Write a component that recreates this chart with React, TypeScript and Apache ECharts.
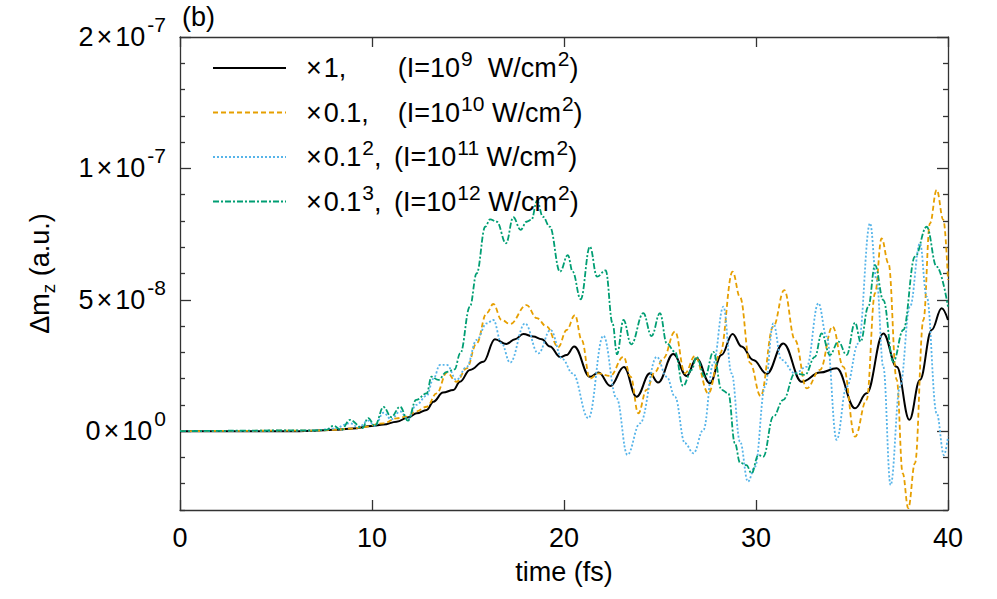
import React, { useEffect, useRef } from "react";
import * as echarts from "echarts";

// values in units of 1e-8 a.u.
const SCALE = 1e-8;
const FONT = "Liberation Sans, Arial, Helvetica, sans-serif";

const X_MIN = 0;
const X_MAX = 40;
const Y_MIN = -3;
const Y_MAX = 15;
const Y_MAJOR = [0, 5, 10, 15];
const Y_TICK_TEXT: Record<number, [string, string]> = {
  0: ["0", "0"],
  5: ["5", "-8"],
  10: ["1", "-7"],
  15: ["2", "-7"],
};

const SERIES_NAMES = ["x1", "x0.1", "x0.01", "x0.001"];
const LEGEND_MANT = ["1,", "0.1,", "0.1", "0.1"];
const LEGEND_POW = ["", "", "2", "3"];
const LEGEND_EXP = ["9", "10", "11", "12"];
const COLORS = ["#000000", "#E69F00", "#56B4E9", "#009E73"];

const black: [number, number][] = [
  [0, 0], [6, 0], [7, 0.02], [8, 0.05], [9, 0.1], [10, 0.2], [10.6, 0.25], [11.28, 0.36],
  [11.9, 0.53], [12.33, 0.68], [12.85, 0.81], [13.2, 1.12], [13.7, 1.47], [14.24, 1.57],
  [14.58, 1.88], [15.1, 2.33], [15.8, 2.64], [16.4, 3.5], [17.0, 3.32], [17.45, 3.5],
  [17.88, 3.7], [18.4, 3.6], [18.84, 3.5], [19.27, 3.22], [19.8, 2.82], [20.14, 2.9],
  [20.53, 3.22], [21.35, 2.07], [21.8, 2.23], [22.42, 1.72], [23.12, 2.44], [23.78, 1.31],
  [24.48, 2.2], [24.9, 1.85], [25.69, 2.94], [26.39, 2.1], [26.9, 2.77], [27.6, 1.82],
  [28.2, 2.9], [28.78, 3.7], [29.25, 3.22], [29.86, 2.71], [30.56, 2.18], [31.42, 3.34],
  [32.38, 1.88], [33.33, 2.23], [34.2, 2.39], [35.16, 0.87], [35.76, 1.44], [36.63, 3.72],
  [37.33, 2.45], [37.99, 0.43], [38.54, 1.95], [39.15, 3.85], [39.67, 4.68], [40, 4.23],
];

const orange: [number, number][] = [
  [0, 0], [7, 0.02], [8, 0.05], [9, 0.1], [9.5, 0.15], [10.6, 0.3], [11.28, 0.49], [11.8, 0.55],
  [12.3, 0.75], [12.85, 0.93], [13.37, 1.44], [13.9, 2.23], [14.4, 1.88], [14.93, 2.39],
  [15.45, 3.34], [15.97, 4.49], [16.32, 4.84], [16.75, 4.23], [17.19, 4.08], [18.05, 4.8],
  [18.58, 4.3], [19.1, 3.98], [19.7, 3.2], [20.14, 3.85], [20.57, 4.42], [20.92, 3.47],
  [21.35, 2.0], [21.8, 2.2], [22.4, 2.1], [23.1, 2.83], [23.47, 2.07], [23.87, 0.68],
  [24.3, 1.57], [24.74, 2.26], [25.17, 2.77], [25.78, 3.79], [26.3, 2.2], [26.82, 2.86],
  [27.52, 1.44], [28.13, 2.96], [28.78, 6.07], [29.17, 5.1], [29.69, 2.6], [30.24, 1.34],
  [30.9, 3.98], [31.47, 5.37], [32.03, 3.47], [32.64, 1.63], [33.33, 2.33], [33.99, 3.98],
  [34.55, 2.45], [35.16, -0.21], [35.76, 1.19], [36.2, 5.25], [36.54, 7.34], [36.9, 6.39],
  [37.33, 1.95], [37.64, -1.6], [37.93, -2.93], [38.28, -1.22], [38.72, 4.23], [39.06, 7.91],
  [39.41, 9.18], [39.76, 8.04], [40, 5.75],
];

const blue: [number, number][] = [
  [0, 0], [7, 0.02], [8, 0.1], [8.85, 0.3], [9.3, 0.15], [9.8, 0.4], [10.15, 0.2], [10.6, 0.7],
  [11.0, 0.45], [11.46, 0.75], [11.87, 0.45], [12.3, 1.0], [12.85, 1.35], [13.2, 2.0],
  [13.54, 2.52], [13.9, 2.52], [14.4, 1.95], [14.93, 2.45], [15.45, 3.47], [15.97, 4.1],
  [16.32, 4.23], [16.75, 3.34], [17.19, 2.61], [17.97, 4.1], [18.66, 2.96], [19.3, 3.85],
  [19.92, 2.74], [20.45, 2.2], [21.27, 0.49], [22.05, 3.63], [22.74, 1.25], [23.3, -0.9],
  [23.96, 0.3], [24.83, 2.83], [25.35, 2.07], [25.78, 1.31], [26.3, -0.46], [26.74, -0.84],
  [27.26, 0.05], [27.78, 2.58], [28.3, 4.74], [28.73, 2.2], [29.17, -0.4], [29.58, -1.92],
  [29.95, -1.35], [30.47, 1.69], [30.9, 4.1], [31.33, 2.71], [32.03, 2.2], [32.64, 2.45],
  [33.25, 4.87], [33.68, 3.6], [34.2, -0.33], [34.72, 1.69], [35.33, 3.34], [35.94, 7.91],
  [36.28, 5.75], [36.63, 2.45], [37.01, -2.05], [37.5, 1.69], [38.02, 4.74], [38.54, 7.15],
  [38.89, 5.12], [39.41, 0.68], [39.79, -0.91], [40, -0.21],
];

const green: [number, number][] = [
  [0, 0], [7, 0.03], [7.6, 0.05], [8.0, 0.2], [8.4, 0.05], [8.85, 0.43], [9.5, 0.12], [9.8, 0.5],
  [10.15, 0.2], [10.6, 0.92], [11.0, 0.54], [11.46, 0.93], [11.87, 0.4], [12.3, 1.19],
  [12.85, 1.44], [13.1, 2.07], [13.45, 1.95], [13.9, 2.26], [14.3, 2.35], [14.6, 2.97],
  [15.1, 4.74], [15.45, 6.0], [15.9, 7.78], [16.15, 8.06], [16.5, 7.97], [16.98, 7.15],
  [17.36, 8.14], [17.74, 7.66], [18.05, 7.97], [18.3, 8.04], [18.6, 8.77], [18.9, 8.16],
  [19.26, 7.78], [19.79, 6.07], [20.2, 6.7], [20.45, 6.07], [20.87, 5.02], [21.35, 7.02],
  [21.72, 5.88], [22.17, 6.12], [22.53, 4.1], [22.76, 2.93], [23.1, 4.23], [23.5, 3.3],
  [24.13, 4.49], [24.56, 3.62], [25.0, 4.49], [25.35, 3.34], [25.78, 3.02], [26.2, 1.72],
  [26.65, 2.33], [26.9, 2.83], [27.34, 2.07], [27.78, 3.02], [28.21, 1.57], [28.56, 1.44],
  [28.9, -0.46], [29.17, -1.2], [29.5, -1.29], [29.77, -1.6], [30.12, -0.91], [30.38, -0.97],
  [30.9, 0.55], [31.42, 1.19], [32.03, 2.2], [32.55, 2.14], [33.07, 2.83], [33.42, 3.72],
  [33.85, 2.9], [34.29, 3.41], [34.72, 2.9], [35.16, 4.13], [35.45, 3.41], [35.85, 4.74],
  [36.2, 6.32], [36.63, 4.99], [37.15, 2.64], [37.67, 3.85], [38.28, 6.64], [38.89, 7.78],
  [39.41, 6.26], [40, 4.74],
];

const SERIES_DATA = [black, orange, blue, green];
const DASHES: (number[] | "solid")[] = ["solid", [5, 3], [2, 2], [6, 2, 2, 2]];

const FS = 27;
const SUP = 21;

export default function App() {
  const ref = useRef<HTMLDivElement>(null);
  useEffect(() => {
    if (!ref.current) return;
    const chart = echarts.init(ref.current, undefined, { renderer: "svg" });

    const yMin = Y_MIN * SCALE;
    const yMax = Y_MAX * SCALE;
    const minorVals: number[] = [];
    for (let i = Y_MIN; i <= Y_MAX; i++) if (!Y_MAJOR.includes(i)) minorVals.push(i * SCALE);
    const majorVals = Y_MAJOR.map((v) => v * SCALE);
    const axisColor = "#333";

    const base = { fontSize: FS, color: "#000", fontFamily: FONT };
    const supRich: any = {
      b: { ...base, lineHeight: 46, verticalAlign: "middle" },
      x: { ...base, lineHeight: 46, verticalAlign: "middle", padding: [0, 3, 0, 3] },
      s: { ...base, fontSize: SUP, verticalAlign: "top", padding: [0, 0, 0, 2] },
    };

    const yTickAxis = (position: "left" | "right", vals: number[], len: number, labels: boolean, line: boolean) => ({
      type: "value",
      position,
      min: yMin,
      max: yMax,
      splitLine: { show: false },
      axisLine: { show: line, onZero: false, lineStyle: { color: axisColor, width: 1.3 } },
      axisTick: { show: true, inside: true, length: len, customValues: vals, lineStyle: { color: axisColor, width: 1.3 } },
      axisLabel: labels
        ? {
            show: true,
            customValues: majorVals,
            margin: 14,
            formatter: (v: number) => {
              const k = Math.round(v / SCALE);
              const t = Y_TICK_TEXT[k];
              return t ? `{b|${t[0]}}{x|×}{b|10}{s|${t[1]}}` : "";
            },
            rich: supRich,
          }
        : { show: false },
      name: labels && position === "left" ? "{b|Δm}{z|z}{b| (a.u.)}" : "",
      nameLocation: "middle",
      nameRotate: 90,
      nameGap: 122,
      nameTextStyle: {
        rich: {
          b: { ...base, lineHeight: 36, verticalAlign: "middle" },
          z: { ...base, fontSize: 19, verticalAlign: "bottom" },
        },
      },
    });

    const legendRich: any = {
      p: { ...base, width: 15 },
      a: { ...base, width: 74, lineHeight: 40, verticalAlign: "middle" },
      c: { ...base, lineHeight: 40, verticalAlign: "middle" },
      x: { ...base, lineHeight: 40, verticalAlign: "middle", padding: [0, 2, 0, 0] },
      k: { ...base, lineHeight: 40, verticalAlign: "middle", padding: [0, 5, 0, 0] },
      b: { ...base, lineHeight: 40, verticalAlign: "middle" },
      s: { ...base, fontSize: SUP, verticalAlign: "top", padding: [0, 0, 0, 1] },
    };

    const legendText = (i: number) => {
      const exp = LEGEND_EXP[i];
      const gap = exp.length === 1 ? "  " : " ";
      const tail = `{b|(I=10}{s|${exp}}{b|${gap}W/cm}{s|2}{b|)}`;
      if (LEGEND_POW[i]) {
        return `{p| }{x|×}{c|${LEGEND_MANT[i]}}{s|${LEGEND_POW[i]}}{k|, }` + tail;
      }
      return `{p| }{x|×}{a|${LEGEND_MANT[i]}}` + tail;
    };

    chart.setOption({
      animation: false,
      backgroundColor: "#fff",
      textStyle: { fontFamily: FONT },
      title: {
        text: "(b)",
        left: 182,
        top: 3,
        padding: 0,
        textStyle: { fontSize: FS, fontWeight: "normal", color: "#000", fontFamily: FONT },
      },
      grid: { left: 180, right: 49, top: 37, bottom: 89, containLabel: false },
      legend: {
        orient: "vertical",
        left: 212,
        top: 48,
        padding: 0,
        itemWidth: 73,
        itemHeight: 14,
        itemGap: 11,
        selectedMode: false,
        itemStyle: { opacity: 0 },
        data: SERIES_NAMES,
        formatter: (name: string) => legendText(SERIES_NAMES.indexOf(name)),
        textStyle: { fontSize: FS, color: "#000", fontFamily: FONT, rich: legendRich },
      },
      xAxis: [
        {
          type: "value",
          position: "bottom",
          min: X_MIN,
          max: X_MAX,
          interval: 10,
          splitLine: { show: false },
          axisLine: { show: true, onZero: false, lineStyle: { color: axisColor, width: 1.3 } },
          axisTick: { show: true, inside: true, length: 10, lineStyle: { color: axisColor, width: 1.3 } },
          axisLabel: { show: true, fontSize: FS, color: "#000", margin: 14, fontFamily: FONT },
          name: "time (fs)",
          nameLocation: "middle",
          nameGap: 48,
          nameTextStyle: { fontSize: FS, color: "#000", fontFamily: FONT },
        },
        {
          type: "value",
          position: "top",
          min: X_MIN,
          max: X_MAX,
          interval: 10,
          splitLine: { show: false },
          axisLine: { show: true, onZero: false, lineStyle: { color: axisColor, width: 1.3 } },
          axisTick: { show: true, inside: true, length: 10, lineStyle: { color: axisColor, width: 1.3 } },
          axisLabel: { show: false },
        },
      ],
      yAxis: [
        yTickAxis("left", minorVals, 5, true, true),
        yTickAxis("left", majorVals, 11, false, false),
        yTickAxis("right", minorVals, 5, false, true),
        yTickAxis("right", majorVals, 11, false, false),
      ],
      series: SERIES_DATA.map((d, i) => ({
        name: SERIES_NAMES[i],
        type: "line",
        xAxisIndex: 0,
        yAxisIndex: 0,
        data: d.map(([t, v]) => [t, v * SCALE]),
        symbol: "none",
        showSymbol: false,
        smooth: 0.4,
        smoothMonotone: "x",
        clip: true,
        color: COLORS[i],
        lineStyle: { color: COLORS[i], width: i === 0 ? 2 : 1.8, type: DASHES[i] },
      })),
    });

    return () => chart.dispose();
  }, []);

  return (
    <div
      ref={ref}
      style={{ position: "absolute", left: 0, top: 0, width: 997, height: 599, background: "#fff" }}
    />
  );
}
